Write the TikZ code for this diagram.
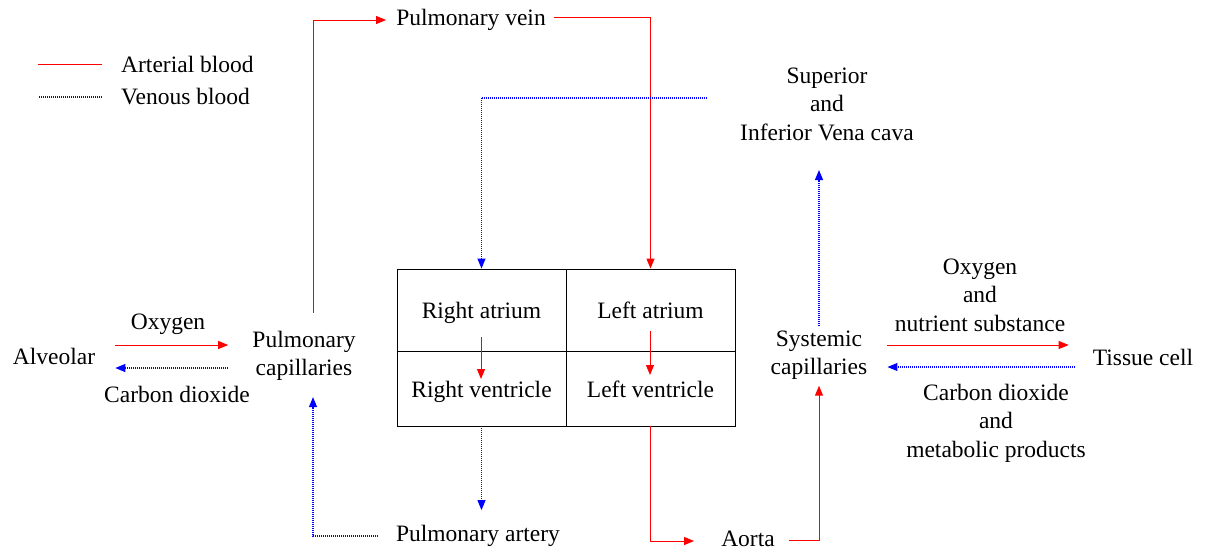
\documentclass[tikz,border=0pt]{standalone}
\usepackage{fontspec}
\setmainfont{Liberation Serif}
\usetikzlibrary{arrows.meta,positioning}

\begin{document}
\begin{tikzpicture}[x=1pt,y=-1pt,
  lbl/.style={font=\fontsize{23.5}{28.5}\selectfont, align=center, inner sep=0pt},
  chamber/.style={draw, line width=0.9pt, minimum width=169pt, inner sep=0pt, text height=17.5pt, text depth=0pt, font=\fontsize{23.5}{28.5}\selectfont},
  art/.style={red, line width=1pt, -{Triangle[length=10pt,width=8pt]}},
  ven/.style={blue, line width=1.1pt, dash pattern=on 1pt off 1pt, -{Triangle[length=10pt,width=8pt]}}]
\useasboundingbox (0,0) rectangle (1205,550);
% legend
\node[lbl, anchor=west] (artleg) at (121,64) {Arterial blood};
\node[lbl, anchor=west] (venleg) at (121,97) {Venous blood};
\draw[red, line width=1pt] ([xshift=-19pt]artleg.west) -- ++(-64,0);
\draw[blue, line width=1.1pt, dash pattern=on 1pt off 1pt] ([xshift=-19pt]venleg.west) -- ++(-64,0);
% heart
\node[chamber, minimum height=82pt] (ratr) at (481.5,310) {Right atrium};
\node[chamber, minimum height=82pt] (latr) at (650.5,310) {Left atrium};
\node[chamber, minimum height=75pt] (rvent) at (481.5,388.5) {Right ventricle};
\node[chamber, minimum height=75pt] (lvent) at (650.5,388.5) {Left ventricle};
\draw[art] (481,337) -- (481,379);
\draw[art] (650,331) -- (650,375);
% labels
\node[lbl] (alv) at (54,356) {Alveolar};
\node[lbl] (pcap) at (304,356) {Pulmonary\\capillaries};
\node[lbl] (oxyL) at (168,324) {Oxygen};
\node[lbl] (codL) at (177,394) {Carbon dioxide};
\node[lbl] (pvein) at (471,20) {Pulmonary vein};
\node[lbl] (part) at (478,536) {Pulmonary artery};
\node[lbl] (vcava) at (827,104) {Superior\\and\\Inferior Vena cava};
\node[lbl] (scap) at (819,355) {Systemic\\capillaries};
\node[lbl] (aorta) at (748,539) {Aorta};
\node[lbl] (tissue) at (1143,357) {Tissue cell};
\node[lbl] (oxyR) at (980,295) {Oxygen\\and\\nutrient substance};
\node[lbl] (codR) at (996,423) {Carbon dioxide\\and\\metabolic products};
\coordinate[above=15pt of part.north] (partT);
\coordinate (vcavaB) at (819,170);
% pulmonary circuit
\draw[art] ([xshift=20pt,yshift=11pt]alv.east) -- ([xshift=-24pt,yshift=11pt]pcap.west);
\draw[ven] ([xshift=-24pt,yshift=-12pt]pcap.west) -- ([xshift=20pt,yshift=-12pt]alv.east);
\draw[art] ([xshift=9pt,yshift=18pt]pcap.north) |- ([xshift=-10pt]pvein.west);
\draw[art] ([xshift=8pt,yshift=3pt]pvein.east) -| (latr.north);
\draw[ven] (rvent.south) -- (rvent.south |- partT);
\draw[ven] ([xshift=-18pt]part.west) -| ([xshift=9pt,yshift=-16pt]pcap.south);
% systemic circuit
\draw[ven] ([xshift=-33pt,yshift=6pt]vcava.west) -| (ratr.north);
\draw[ven] ([yshift=4pt]scap.north) -- (vcavaB);
\draw[art] (lvent.south) |- ([xshift=-27pt,yshift=-2pt]aorta.west);
\draw[art] ([xshift=14pt,yshift=-1pt]aorta.east) -| ([yshift=-6pt]scap.south);
\draw[art] ([xshift=20pt,yshift=10pt]scap.east) -- ([xshift=-24pt,yshift=10pt]scap.east -| tissue.west);
\draw[ven] ([xshift=-18pt,yshift=-12pt]scap.east -| tissue.west) -- ([xshift=20pt,yshift=-12pt]scap.east);
\end{tikzpicture}
\end{document}
